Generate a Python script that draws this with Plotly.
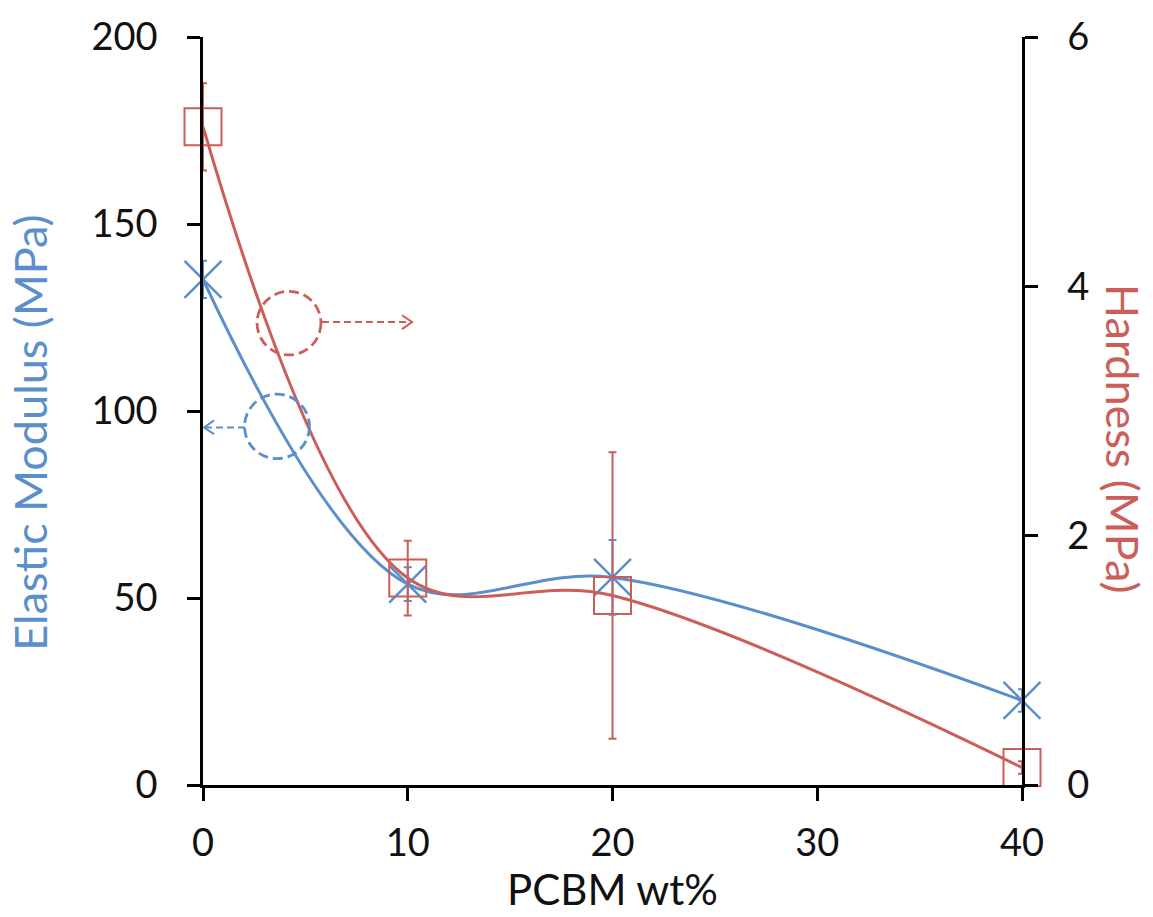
import plotly.graph_objects as go

# ---- data ----
pcbm_wt = [0, 10, 20, 40]
elastic_modulus = [135.2, 53.7, 55.5, 22.6]
elastic_err = [5, 4.5, 10, 3]
hardness = [5.28, 1.66, 1.52, 0.14]
hardness_err = [0.35, 0.3, 1.15, 0.05]
x_ticks = [0, 10, 20, 30, 40]
y_left_ticks = [0, 50, 100, 150, 200]
y_right_ticks = [0, 2, 4, 6]

BLUE = "#5B8FCB"
RED = "#CC5E5A"
FONT = "Lato"

fig = go.Figure()

fig.add_trace(go.Scatter(
    x=pcbm_wt, y=elastic_modulus, mode="lines+markers",
    line=dict(color=BLUE, width=3, shape="spline", smoothing=1),
    marker=dict(symbol="x-thin", size=37, line=dict(color=BLUE, width=2.5)),
    error_y=dict(type="data", array=elastic_err, color=BLUE, thickness=2, width=4),
    cliponaxis=False, showlegend=False, yaxis="y",
))
fig.add_trace(go.Scatter(
    x=pcbm_wt, y=hardness, mode="lines+markers",
    line=dict(color=RED, width=3, shape="spline", smoothing=1),
    marker=dict(symbol="square-open", size=37, color=RED, line=dict(color=RED, width=2)),
    error_y=dict(type="data", array=hardness_err, color=RED, thickness=2, width=4),
    cliponaxis=False, showlegend=False, yaxis="y2",
))

# ---- decorative dashed circles & arrows (left-axis data coords) ----
shapes = [
    dict(type="circle", xref="x", yref="y", x0=2.64, x1=5.76, y0=115.0, y1=132.0,
         line=dict(color=RED, width=2.8, dash="10px,5px")),
    dict(type="line", xref="x", yref="y", x0=5.81, x1=10.16, y0=123.8, y1=123.8,
         line=dict(color=RED, width=2, dash="7px,4px")),
    dict(type="path", xref="x", yref="y",
         path="M 9.72 125.6 L 10.21 123.8 L 9.72 121.9",
         line=dict(color=RED, width=2)),
    dict(type="circle", xref="x", yref="y", x0=2.03, x1=5.20, y0=87.25, y1=104.5,
         line=dict(color=BLUE, width=2.8, dash="10px,5px")),
    dict(type="line", xref="x", yref="y", x0=2.05, x1=0.1, y0=95.6, y1=95.6,
         line=dict(color=BLUE, width=2, dash="7px,4px")),
    dict(type="path", xref="x", yref="y",
         path="M 0.54 97.5 L 0.05 95.6 L 0.54 93.8",
         line=dict(color=BLUE, width=2)),
]

annotations = [
    dict(text="Elastic Modulus (MPa)", xref="paper", yref="paper", x=-0.2112, y=0.471,
         textangle=-90, showarrow=False, xanchor="center", yanchor="middle",
         font=dict(family=FONT, size=45, color=BLUE)),
    dict(text="Hardness (MPa)", xref="paper", yref="paper", x=1.1233, y=0.463,
         textangle=90, showarrow=False, xanchor="center", yanchor="middle",
         font=dict(family=FONT, size=45, color=RED)),
    dict(text="PCBM wt%", xref="paper", yref="paper", x=0.5, y=-0.1753,
         showarrow=False, xanchor="center", yanchor="bottom",
         font=dict(family=FONT, size=42, color="#111")),
]

axis_common = dict(showgrid=False, zeroline=False, showline=True, linecolor="black",
                   linewidth=2.5, ticks="outside", ticklen=13, tickwidth=2.5,
                   tickcolor="black", ticklabeloverflow="allow",
                   tickfont=dict(family=FONT, size=38, color="#111"))

fig.update_layout(
    width=1153, height=917,
    margin=dict(l=203, r=131, t=32, b=132),
    paper_bgcolor="white", plot_bgcolor="white",
    xaxis=dict(range=[0, 40], tickvals=x_ticks, ticklabelstandoff=10, **axis_common),
    yaxis=dict(range=[0, 200], tickvals=y_left_ticks, ticklabelstandoff=22, **axis_common),
    yaxis2=dict(range=[0, 6], tickvals=y_right_ticks, overlaying="y", side="right",
                ticklabelstandoff=22, **axis_common),
    shapes=shapes, annotations=annotations,
)

# remove the browser's default 8px body margin so the figure fills the window exactly
fig.write_html("out.html", config={"displayModeBar": False},
               post_script="document.body.style.margin='0';")
